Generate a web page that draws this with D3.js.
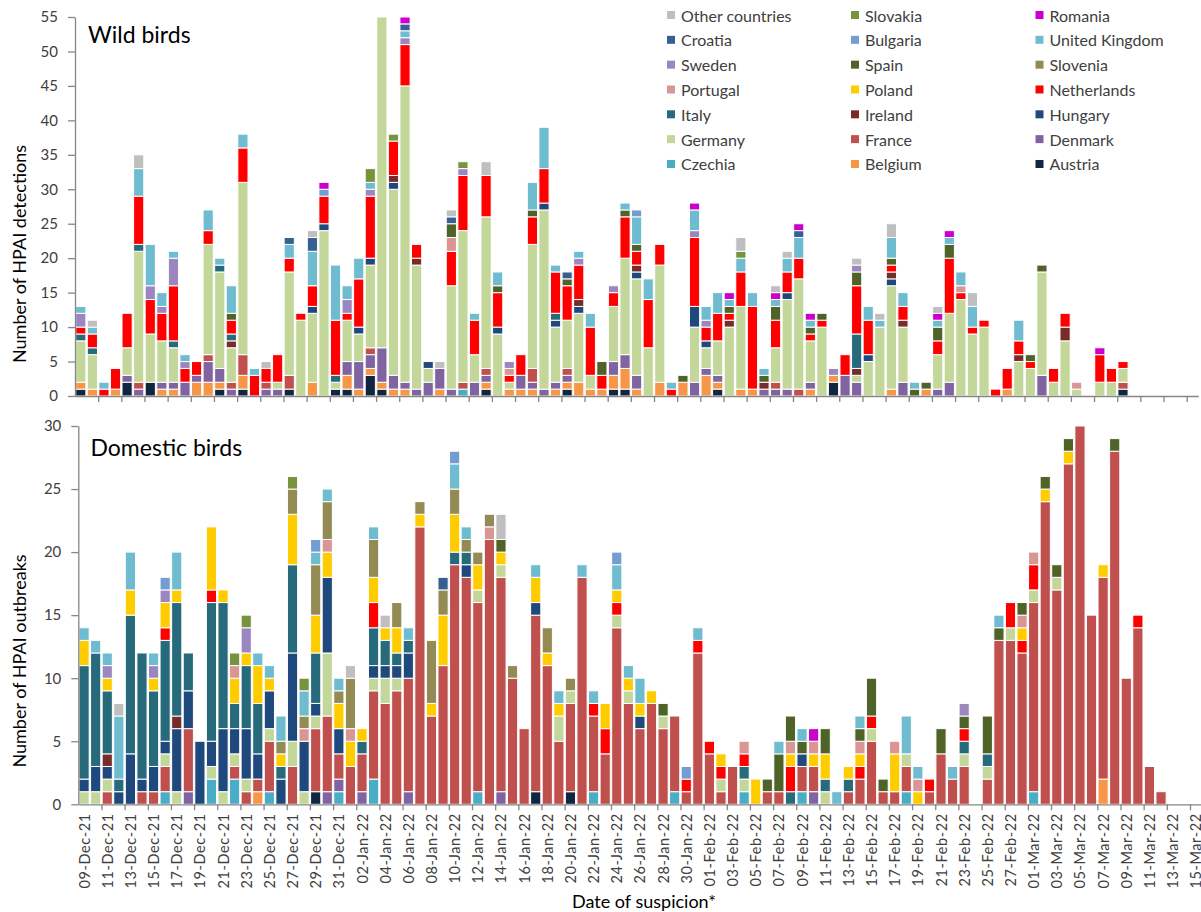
<!DOCTYPE html>
<html><head><meta charset="utf-8">
<script src="https://cdn.jsdelivr.net/npm/d3@7"></script>
<style>body{margin:0;background:#fff;} svg{display:block;font-family:Lato,'Open Sans',sans-serif;}</style>
</head><body><svg id="c" width="1201" height="912"></svg>
<script>
// Series (stack order bottom -> top)
const countries = ["Austria","Belgium","Czechia","Denmark","France","Germany","Hungary","Ireland","Italy","Netherlands","Poland","Portugal","Slovenia","Spain","Sweden","United Kingdom","Bulgaria","Croatia","Romania","Slovakia","Other countries"];
const codes = ["AT","BE","CZ","DK","FR","DE","HU","IE","IT","NL","PL","PT","SI","ES","SE","UK","BG","HR","RO","SK","OT"];
const colors = ["#10253F","#F79646","#4BACC6","#8064A2","#C0504D","#C4D79B","#1F497D","#772C2A","#276A7C","#FF0000","#FFCC00","#D99694","#948A54","#4F6228","#9B86C0","#6FBCD1","#739CD0","#376092","#CC00CC","#77933C","#BFBFBF"];
// Categories: one per day, 09-Dec-21 .. 15-Mar-22
const dates = d3.timeDay.range(new Date(2021,11,9), new Date(2022,2,16)).map(d3.timeFormat("%d-%b-%y"));
const yTicksWild = [0,5,10,15,20,25,30,35,40,45,50,55];
const yTicksDomestic = [0,5,10,15,20,25,30];

// Wild birds: detections per day, by country code
const wildCounts = [
"AT1 BE1 DE6 IT1 NL1 SE2 UK1","BE1 DE5 IT1 NL2 UK1 OT1","NL1 UK1","BE1 NL3","AT2 DK1 DE4 NL5",
"DK1 FR1 DE19 IT1 NL7 UK4 OT2","AT2 DE7 NL5 SE2 UK6","BE1 DK1 DE6 NL4 SE1 UK2","BE1 DK1 DE5 IT1 NL8 SE4 UK1","DK2 NL2 SE1 UK1",
"BE2 DK1 NL2","BE2 DK3 FR1 DE16 NL2 UK3","AT1 BE1 DK2 DE14 IT1 UK1","DK1 FR1 DE5 IE1 IT1 NL2 ES1 UK4","AT1 BE2 FR3 DE25 NL5 UK2",
"NL3 UK1","DK1 FR1 NL2 OT1","DK1 DE1 NL4","AT1 FR2 DE15 NL2 UK2 HR1","DE11 NL1",
"BE2 DE10 HU1 NL3 UK5 HR2 OT1","DE24 HU1 NL4 BG1 RO1","AT1 DE1 IT1 NL8 UK8","AT1 BE2 DK2 DE6 NL1 SE2 UK2","BE1 DK4 DE4 HU1 NL7 UK3",
"AT3 BE1 DK2 FR1 DE12 HU1 NL9 SE1 UK1 SK2","AT1 BE1 DK5 DE48","BE1 DK2 DE27 HU1 IE1 NL5 SK1","BE1 DK1 DE43 NL6 SE1 UK1 HR1 RO1","DK1 DE18 IE1 NL2",
"DK2 DE2 HU1","BE1 DK3 OT1","DK1 DE15 NL5 PT2 ES2 HR1 OT1","CZ1 FR1 DE22 NL8 SE1 SK1","DK2 DE4 NL5 UK1",
"AT1 BE1 DK1 FR1 DE22 NL6 OT2","DE9 HU1 NL5 ES1 UK2","BE1 DE1 NL1 PT1 SE1","BE1 DK2 NL3","BE1 DK1 FR2 DE18 NL4 ES1 UK4",
"DK1 DE26 HU1 NL5 UK6","BE1 DK1 DE8 HU1 IT1 NL6 UK1","AT1 BE1 DK1 FR1 DE7 NL5 ES1 HR1","BE2 DE10 HU1 IE1 NL5 SE1 UK1","BE1 DE2 NL7 UK2",
"BE1 NL2 ES2","AT1 BE2 DK2 DE8 NL2 SE1","AT1 BE3 DK2 DE14 NL6 ES1 UK1","BE1 DK2 DE14 HU1 IE1 NL2 ES1 UK4 BG1","DE7 NL7 UK3",
"BE2 DE17 NL3","NL1 UK1","BE2 ES1","DK2 DE8 HU3 NL10 SE1 UK3 RO1","BE3 DK1 DE3 HU1 NL2 SE1 UK2",
"AT1 BE1 DK1 DE5 NL4 UK3","DE10 IE1 NL1 ES1 UK1 RO1","BE1 DE12 NL5 UK2 SK1 OT2","BE1 NL12 UK2","DK1 IE1 ES1 UK1",
"DK1 FR1 DE5 NL4 ES2 UK1 RO1 OT1","DK1 DE13 HU1 NL3 UK2 OT1","FR1 DE16 NL3 UK3 HR1 RO1","BE1 DK1 DE6 NL1 ES1 UK1 RO1","DE10 NL1 ES1",
"AT2 BE1 SE1","DK3 NL3","DK2 DE1 IE1 IT5 NL7 ES2 SE1 OT1","DE5 HU1 NL5 UK2","DE10 UK1 OT1",
"BE1 DE15 HU1 IE1 NL1 ES1 UK3 OT2","DK2 DE8 IE1 NL2 UK2","ES1 UK1","BE1 ES1","DK1 DE5 NL2 ES2 UK1 RO1 OT1",
"DK2 DE10 NL8 ES2 UK1 RO1","DE14 NL1 PT1 UK2","DE9 NL1 UK3 OT2","DE10 NL1","NL1",
"BE1 NL3","DE5 IE1 NL2 UK3","DE4 NL1 ES1","DK3 DE15 ES1","DE2 NL2",
"DE8 IE2 NL2","DE1 PT1","","DE2 NL4 RO1","DE2 NL2",
"AT1 FR1 DE2 NL1","","","","","",""
];

// Domestic birds: outbreaks per day, by country code
const domesticCounts = [
"DE1 HU1 IT9 PL2 UK1","DE1 HU2 IT9 UK1","FR1 DE1 HU1 IE1 IT5 PL1 SE1 UK1","HU1 IT1 UK5 OT1","HU4 IT11 PL2 UK3",
"FR1 HU1 IT10","FR1 HU2 IT6 PL1 SE1 UK1","CZ1 FR2 DE1 HU1 IT8 NL1 PL2 SE1 BG1","DE1 HU5 IE1 IT9 PL1 UK3","DK1 FR5 HU3 IT3",
"HU5","CZ2 DE1 HU2 IT11 NL1 PL5","DE1 HU5 IT10 PL1","CZ2 FR1 DE1 HU2 IT2 PL2 PT1 SK1","FR1 DE1 HU4 IT5 PL1 SE2 SK1",
"BE1 FR1 HU2 IT4 PL3 UK1","CZ1 FR4 DE1 HU3 PL1 UK1","HU2 IT1 PL1 SI1 UK2","FR3 DE2 HU7 IT7 PL4 SI2 SK1","DE1 HU4 PT1 SI1 UK2 SK1",
"AT1 FR5 DE1 HU1 IT4 PL3 SI4 UK1 BG1","DK1 FR6 DE5 HU6 PL2 PT1 SI3 UK1","CZ1 DK1 FR2 HU2 PL2 SI1 UK1","FR3 PL2 PT1 SI4 OT1","DK1 FR3 IT1 PL1",
"CZ2 FR7 DE1 HU1 IT3 NL2 PL2 SI3 UK1","FR8 DE2 HU1 IT2 PL1 OT1","FR9 DE1 HU1 IT1 PL2 SI2","DK1 FR9 HU2 IT1 UK1","FR22 PL1 SI1",
"FR7 PL1 SI5","FR11 PL4 SI2 HR1","FR19 IT1 PL3 SI2 UK2 BG1","FR18 HU1 IT1 SI1 UK1","CZ1 FR15 DE1 PL2 SI1",
"FR21 PT1 SI1","DK1 FR17 DE1 PL1 ES1 OT2","FR10 SI1","FR6","AT1 FR14 HU1 PL2 UK1",
"FR11 PL1 SI2","FR5 DE2 PL1 UK1","AT1 FR7 DE1 SI1","FR18 UK1","CZ1 FR6 NL1 UK1",
"FR4 NL2 PL2","FR14 DE1 NL1 PL1 UK2 BG1","FR8 DE1 PL1 UK1","FR6 HU1 PL1 UK2","FR8 PL1",
"FR6 DE1 ES1","CZ1 FR6","FR1 NL1 BG1","FR12 NL1 UK1","FR4 NL1",
"FR1 DE1 NL1 PL1","FR3","CZ1 DE1 IT1 NL1 PT1","PL2","FR1 ES1",
"FR1 ES3 UK1","IT1 NL2 PL1 PT1 ES2","CZ1 FR2 HU1 ES1 UK1","DK1 FR2 PL1 PT1 RO1","DE1 IT1 PL2 ES2",
"UK1","FR1 IT1 PL1","FR2 NL1 PL1 PT1 ES1 UK1","FR5 DE1 NL1 ES3","FR1 ES1",
"FR1 PL3 PT1","CZ1 FR2 DE1 UK3","PL1 PT1 UK1","FR1 NL1","FR4 ES2",
"FR2 UK1","FR3 DE1 IT1 NL1 ES1 SE1","","FR2 DE1 IT1 ES3","FR13 ES1 UK1",
"FR13 DE1 NL2","FR12 NL1 PL1 PT1 ES1","CZ1 FR15 DE1 NL2 PT1","FR24 PL1 ES1","FR17 DE1 ES1",
"FR27 PL1 ES1","FR30","FR15","BE2 FR16 PL1","FR28 ES1",
"FR10","FR14 NL1","FR3","FR1","","",""
];

const svg = d3.select("#c");
const AXIS = "#868686", TXT = "#404040";

function toRows(list){
  return list.map((s,i)=>{
    const o = {date: dates[i]};
    codes.forEach(c=>o[c]=0);
    s.split(" ").filter(Boolean).forEach(t=>{ o[t.slice(0,2)] = +t.slice(2); });
    return o;
  });
}

function panel(o){
  const step = 11.58;
  const x = d3.scaleBand().domain(dates).range([o.left, o.left + dates.length*step]).paddingInner(0.12).paddingOuter(0.06);
  const y = d3.scaleLinear().domain([0, o.max]).range([o.bottom, o.top]);
  const series = d3.stack().keys(codes)(toRows(o.counts));
  const g = svg.append("g");
  g.selectAll("g").data(series).join("g")
    .attr("fill", (d,i)=>colors[i])
    .selectAll("rect").data(d=>d.filter(p=>p[1]>p[0])).join("rect")
    .attr("x", d=>x(d.data.date)).attr("width", x.bandwidth())
    .attr("y", d=>y(d[1])).attr("height", d=>y(d[0])-y(d[1]))
    .attr("stroke","#fff").attr("stroke-width",1);

  // y axis
  const ya = g.append("g").attr("transform",`translate(${o.left},0)`)
    .call(d3.axisLeft(y).tickValues(o.ticks).tickSize(7).tickSizeOuter(0).tickPadding(10));
  ya.select(".domain").attr("stroke",AXIS).attr("stroke-width",1.3);
  ya.selectAll(".tick line").attr("stroke",AXIS).attr("stroke-width",1.3);
  ya.selectAll(".tick text").attr("fill",TXT).style("font-size","15px").style("font-family","Lato,sans-serif");

  // x axis: ticks between categories every 2 days
  const xb = d3.scaleLinear().domain([0, dates.length]).range(x.range());
  const xa = g.append("g").attr("transform",`translate(0,${o.bottom})`)
    .call(d3.axisBottom(xb).tickValues(d3.range(2, dates.length+1, 2)).tickSize(6).tickSizeOuter(0).tickFormat(""));
  xa.select(".domain").attr("stroke",AXIS).attr("stroke-width",1.3);
  xa.selectAll(".tick line").attr("stroke",AXIS).attr("stroke-width",1.3);

  if(o.labels){
    g.append("g").selectAll("text").data(dates.filter((d,i)=>i%2===0)).join("text")
      .attr("transform", d=>`translate(${x(d)+x.bandwidth()/2},${o.bottom+9}) rotate(-90)`)
      .attr("text-anchor","end").attr("dominant-baseline","central")
      .attr("fill",TXT).style("font-size","14.5px").style("letter-spacing","0.6px")
      .text(d=>d);
  }
  g.append("text").attr("x",o.tx).attr("y",o.ty).attr("fill","#000").style("font-size","23px").text(o.title);
  g.append("text").attr("transform",`translate(19,${o.yty}) rotate(-90)`).attr("text-anchor","middle")
    .attr("dominant-baseline","central").attr("fill","#000").style("font-size","18px").text(o.ytitle);
}

panel({left:75, bottom:396, top:17, max:55, ticks:yTicksWild, counts:wildCounts, title:"Wild birds", tx:88, ty:43, ytitle:"Number of HPAI detections", yty:254, labels:false});
panel({left:78.3, bottom:804.3, top:426, max:30, ticks:yTicksDomestic, counts:domesticCounts, title:"Domestic birds", tx:90.5, ty:456, ytitle:"Number of HPAI outbreaks", yty:661, labels:true});

svg.append("text").attr("x",644).attr("y",908).attr("text-anchor","middle").attr("fill","#000").style("font-size","18px").text("Date of suspicion*");

// Legend: reversed series order, 3 per row
const legendOrder = countries.slice().reverse();
const colX = [667, 851, 1035.5];
const lg = svg.append("g").selectAll("g").data(legendOrder).join("g")
  .attr("transform",(d,i)=>`translate(${colX[i%3]},${15 + Math.floor(i/3)*24.83})`);
lg.append("rect").attr("x",0).attr("y",-4).attr("width",8).attr("height",8).attr("fill",d=>colors[countries.indexOf(d)]);
lg.append("text").attr("x",14).attr("y",0).attr("dominant-baseline","central").attr("fill",TXT).style("font-size","16px").text(d=>d);
</script></body></html>
